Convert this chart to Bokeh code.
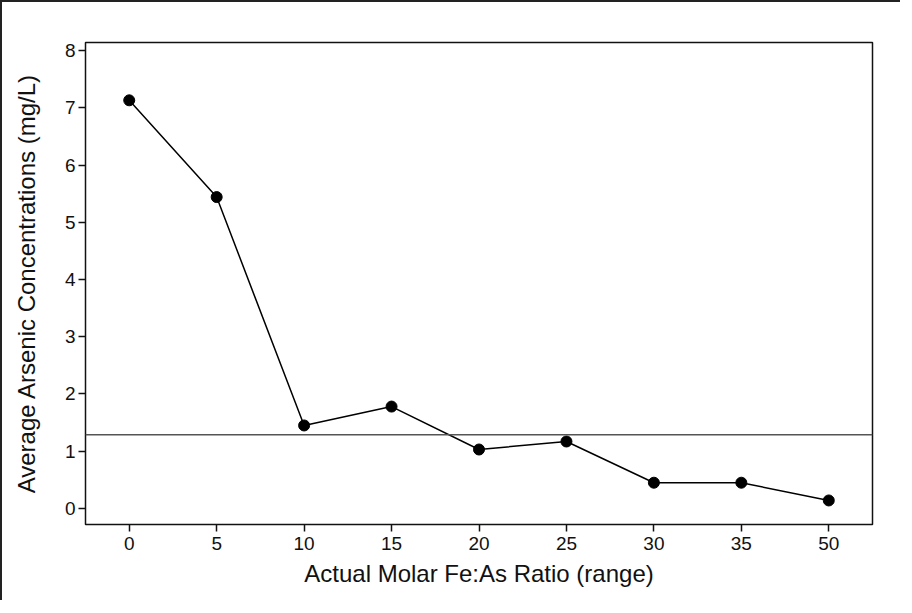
from bokeh.plotting import figure
from bokeh.models import FactorRange, Range1d, Span, FixedTicker
from bokeh.embed import file_html
from bokeh.resources import INLINE

ratios = ["0", "5", "10", "15", "20", "25", "30", "35", "50"]
arsenic = [7.13, 5.44, 1.45, 1.78, 1.03, 1.17, 0.45, 0.45, 0.14]
ref_level = 1.29
y_ticks = [0, 1, 2, 3, 4, 5, 6, 7, 8]

FONT = "Liberation Sans"

p = figure(width=900, height=600, output_backend="svg", toolbar_location=None,
           x_range=FactorRange(factors=ratios, range_padding=0),
           y_range=Range1d(-0.28, 8.14),
           min_border_left=83, min_border_right=30, min_border_top=40, min_border_bottom=78)
p.styles = {"border-top": "2px solid #222", "border-left": "2px solid #222"}

p.xgrid.visible = False
p.ygrid.visible = False
p.outline_line_color = "#111"
p.outline_line_width = 1.5

p.line(ratios, arsenic, line_color="black", line_width=1.5)
p.scatter(ratios, arsenic, size=11, fill_color="black", line_color="black")

p.add_layout(Span(location=ref_level, dimension="width", line_color="#555", line_width=1.5))

for ax in (p.xaxis[0], p.yaxis[0]):
    ax.axis_line_color = None
    ax.major_tick_line_color = "#111"
    ax.major_tick_line_width = 1.5
    ax.major_tick_out = 7
    ax.major_tick_in = 0
    ax.minor_tick_line_color = None
    ax.major_label_text_font = FONT
    ax.major_label_text_font_size = "19px"
    ax.major_label_text_color = "#111"
    ax.axis_label_text_font = FONT
    ax.axis_label_text_font_size = "24px"
    ax.axis_label_text_font_style = "normal"
    ax.axis_label_text_color = "#111"

p.yaxis[0].ticker = FixedTicker(ticks=y_ticks)
p.yaxis[0].major_label_standoff = 3
p.yaxis[0].axis_label_standoff = 22
p.xaxis[0].major_label_standoff = 5
p.xaxis[0].axis_label_standoff = 7
p.xaxis[0].axis_label = "Actual Molar Fe:As Ratio (range)"
p.yaxis[0].axis_label = "Average Arsenic Concentrations (mg/L)"

open("out.html", "w").write(file_html(p, INLINE))
